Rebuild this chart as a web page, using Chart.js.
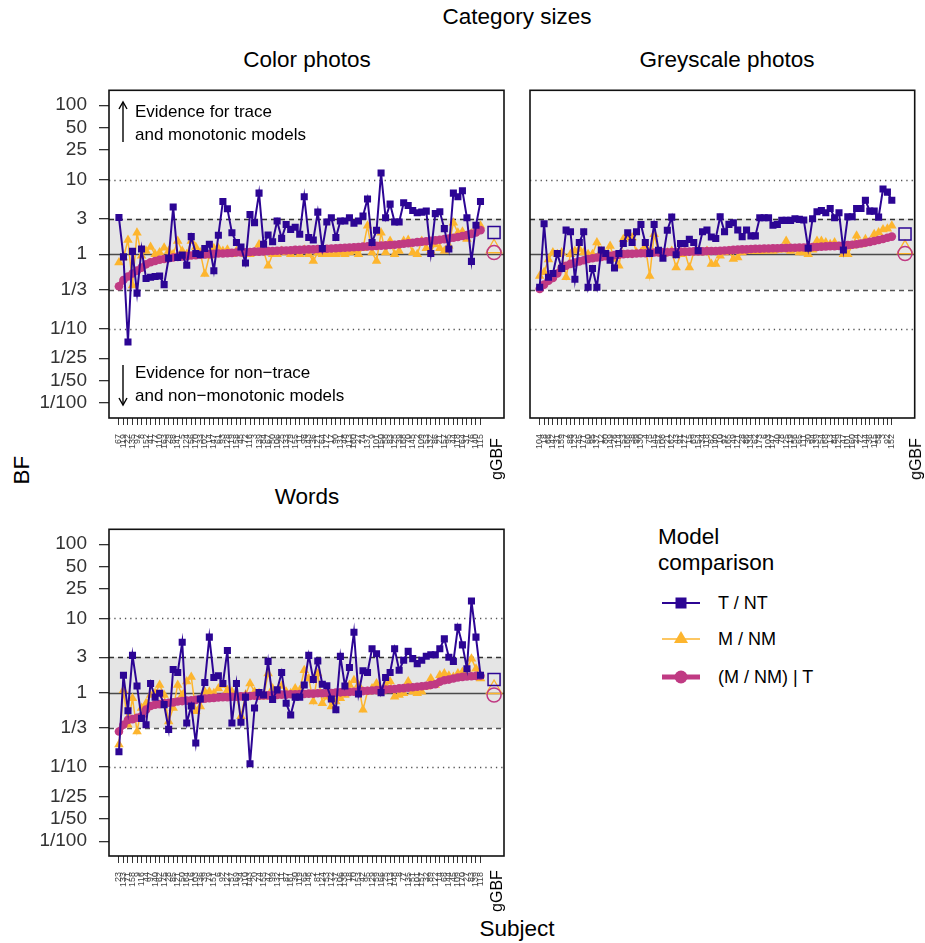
<!DOCTYPE html>
<html>
<head>
<meta charset="utf-8">
<script src="https://cdn.jsdelivr.net/npm/chart.js@4.4.1/dist/chart.umd.min.js"></script>
<style>
  body { margin:0; width:925px; height:943px; position:relative; background:#fff; overflow:hidden;
         font-family:"Liberation Sans", Arial, Helvetica, sans-serif; color:#000; }
  canvas { position:absolute; }
  .t { position:absolute; white-space:nowrap; transform:translate(-50%,-50%); line-height:1; }
  .r { transform:translate(-50%,-50%) rotate(-90deg); }
  .note { position:absolute; white-space:nowrap; font-size:17px; line-height:1; }
  .lg { position:absolute; white-space:nowrap; font-size:18px; line-height:1; transform:translateY(-50%); }
</style>
</head>
<body>
<div class="t" style="left:517px;top:17px;font-size:22.5px">Category sizes</div>
<div class="t" style="left:307px;top:60px;font-size:22.5px">Color photos</div>
<div class="t" style="left:727px;top:60px;font-size:22.5px">Greyscale photos</div>
<div class="t" style="left:307px;top:497px;font-size:22.5px">Words</div>
<div class="t r" style="left:22px;top:470px;font-size:22.5px">BF</div>
<div class="t" style="left:517px;top:929px;font-size:22.5px">Subject</div>

<canvas id="pColor" width="515" height="420" style="left:0;top:80px"></canvas>
<canvas id="pGrey" width="505" height="420" style="left:420px;top:80px"></canvas>
<canvas id="pWords" width="515" height="420" style="left:0;top:519px"></canvas>

<div class="t r" style="left:497px;top:459px;font-size:16px">gGBF</div>
<div class="t r" style="left:916px;top:459px;font-size:16px">gGBF</div>
<div class="t r" style="left:497px;top:891px;font-size:16px">gGBF</div>

<div class="note" style="left:135px;top:103px">Evidence for trace</div>
<div class="note" style="left:135px;top:126px">and monotonic models</div>
<div class="note" style="left:135px;top:364px">Evidence for non&minus;trace</div>
<div class="note" style="left:135px;top:387px">and non&minus;monotonic models</div>

<div class="lg" style="left:658px;top:537px;font-size:22.5px">Model</div>
<div class="lg" style="left:658px;top:563px;font-size:22.5px">comparison</div>
<div class="lg" style="left:718px;top:603px">T / NT</div>
<div class="lg" style="left:718px;top:639px">M / NM</div>
<div class="lg" style="left:718px;top:677px">(M / NM) | T</div>

<svg width="925" height="943" style="position:absolute;left:0;top:0;pointer-events:none">
  <g stroke="#000" stroke-width="1.4" fill="none">
    <line x1="123" y1="142" x2="123" y2="103"/>
    <polyline points="119,109 123,102 127,109"/>
    <line x1="123" y1="365" x2="123" y2="404"/>
    <polyline points="119,398 123,405 127,398"/>
  </g>
  <line x1="662" y1="603" x2="700" y2="603" stroke="#2c0594" stroke-width="2"/>
  <rect x="675.5" y="597.5" width="11" height="11" fill="#2c0594"/>
  <line x1="662" y1="639" x2="700" y2="639" stroke="#fdb52e" stroke-width="1.5"/>
  <polygon points="681,631 688,643 674,643" fill="#fdb52e"/>
  <line x1="662" y1="677" x2="700" y2="677" stroke="#c03a83" stroke-width="5"/>
  <circle cx="681" cy="677" r="6.5" fill="#c03a83"/>
</svg>

<script>
// ---- colours / fonts ----
const C_T = '#2c0594', C_M = '#fdb52e', C_P = '#c03a83';
const FONT = '"Liberation Sans", Arial, Helvetica, sans-serif';

// ---- y axis (BF, log) ----
const Y_TICKS  = [1/100, 1/50, 1/25, 1/10, 1/3, 1, 3, 10, 25, 50, 100];
const Y_LABELS = ['1/100','1/50','1/25','1/10','1/3','1','3','10','25','50','100'];
const GBF_AT = 83;   // x slot of the group-level BF, after a small gap

// ---- Color photos ----
const colorSubjects = '67 119 22 135 97 8 152 41 77 110 163 29 88 141 5 124 56 170 33 102 14 147 61 93 128 19 158 45 72 116 3 139 84 167 50 106 25 133 79 155 11 98 143 36 121 64 172 17 90 131 48 113 160 27 74 137 9 101 150 58 83 125 39 168 70 145 2 109 53 132 86 21 157 95 44 118 164 31 76 140 115'.split(' ');
const colorTNT = [3.1,0.92,0.066,1.09,0.30,1.17,0.47,0.49,0.50,0.51,0.39,0.88,4.3,0.90,0.97,0.71,1.72,1.02,0.98,1.19,
  1.36,0.60,1.79,5.1,4.06,1.94,1.43,1.25,0.76,3.4,2.64,6.6,1.36,1.81,1.47,2.78,1.63,2.5,2.15,2.3,
  1.85,5.9,1.67,1.55,3.67,1.19,2.7,3.08,1.67,2.78,2.78,3.08,2.6,2.78,3.24,5.5,1.43,2.09,12.3,3.08,
  4.7,2.7,2.7,4.9,4.5,3.86,3.6,3.67,3.78,1.02,3.5,3.7,2.2,1.17,6.6,5.9,7.1,3.08,0.80,2.44,5.1];
const colorMNM = [0.77,0.9,1.55,0.38,1.94,0.95,1.1,1.25,1.0,1.05,1.22,1.1,1.0,1.5,1.1,1.0,1.5,1.25,1.05,0.54,
  0.95,1.2,1.2,1.1,1.15,1.0,1.1,1.15,1.0,1.0,1.05,1.35,1.1,0.7,1.0,1.0,1.1,1.05,1.0,1.1,
  1.0,1.15,1.0,0.81,1.05,1.0,1.0,1.0,1.0,1.05,1.0,1.05,1.1,1.0,1.2,2.4,1.05,0.81,1.94,1.05,
  1.5,1.0,1.1,1.5,1.55,1.05,1.0,1.5,1.2,1.1,1.35,1.2,1.1,1.3,2.64,1.94,2.0,1.6,1.9,2.1,2.4];
const colorMNMT = [0.37,0.45,0.50,0.55,0.60,0.66,0.73,0.78,0.81,0.84,0.86,0.88,0.90,0.92,0.93,0.94,0.96,0.97,0.98,0.99,
  1.00,1.01,1.02,1.02,1.03,1.04,1.05,1.05,1.06,1.07,1.08,1.08,1.09,1.10,1.10,1.11,1.12,1.12,1.13,1.14,
  1.14,1.15,1.16,1.16,1.17,1.17,1.18,1.19,1.20,1.21,1.22,1.23,1.24,1.25,1.26,1.27,1.28,1.29,1.30,1.31,
  1.33,1.34,1.36,1.38,1.40,1.42,1.45,1.47,1.49,1.51,1.53,1.56,1.59,1.62,1.66,1.70,1.75,1.80,1.87,1.95,2.1];
const colorGBF = [1.95, 1.2, 1.05];   // T/NT, M/NM, (M/NM)|T

// ---- Greyscale photos ----
const greySubjects = '104 18 66 142 31 159 7 88 123 45 171 60 95 137 12 80 149 26 114 53 166 38 99 130 4 75 145 57 108 21 162 43 91 127 15 69 154 34 118 82 140 10 97 165 49 121 28 86 134 62 173 6 103 147 40 78 125 19 156 65 111 30 94 139 54 168 13 84 129 47 101 160 24 72 144 36 115 58 3 92 152'.split(' ');
const greyTNT = [0.36,2.56,0.49,0.55,1.02,0.64,2.1,2.0,0.46,1.43,2.0,0.36,0.64,0.36,1.14,1.02,0.83,0.65,1.02,1.39,
  1.94,1.43,2.0,2.5,1.43,1.02,2.5,1.13,0.88,2.09,3.14,0.98,1.39,1.39,1.58,1.43,1.11,2.0,2.1,1.7,
  1.62,3.18,2.0,2.51,2.64,2.11,1.72,2.11,1.76,1.76,3.08,3.08,3.08,2.44,2.51,2.84,2.84,2.84,2.99,2.93,
  2.87,1.2,2.99,3.7,3.86,3.6,4.1,3.08,3.6,1.14,3.18,3.18,4.1,4.1,5.3,3.78,3.78,3.14,7.5,6.8,5.3];
const greyMNM = [0.51,0.57,0.85,1.05,1.0,1.05,0.49,1.0,1.1,1.17,1.05,1.0,1.0,1.43,1.1,1.0,1.29,0.86,0.70,1.58,
  1.67,1.67,1.05,1.05,1.29,0.51,1.85,1.05,1.0,1.05,1.1,0.66,1.0,1.05,0.66,1.05,1.1,1.05,1.1,0.74,
  0.74,0.95,1.05,1.1,0.86,0.9,1.05,1.1,1.1,1.1,1.1,1.1,1.15,1.1,1.15,1.15,1.5,1.1,1.15,1.05,
  1.05,1.0,1.15,1.5,1.5,1.43,1.36,1.43,1.25,1.0,1.0,1.3,1.76,1.35,1.58,1.45,1.85,1.95,2.15,2.2,2.4];
const greyMNMT = [0.34,0.39,0.44,0.48,0.55,0.66,0.70,0.74,0.77,0.80,0.83,0.86,0.88,0.90,0.92,0.94,0.95,0.97,0.98,1.00,
  1.01,1.01,1.02,1.03,1.03,1.04,1.05,1.05,1.06,1.06,1.07,1.07,1.08,1.08,1.08,1.09,1.09,1.09,1.10,1.10,
  1.10,1.11,1.12,1.13,1.14,1.15,1.16,1.16,1.17,1.18,1.18,1.19,1.19,1.20,1.20,1.21,1.21,1.22,1.22,1.23,
  1.23,1.24,1.25,1.25,1.26,1.27,1.28,1.28,1.29,1.30,1.32,1.34,1.36,1.39,1.42,1.46,1.50,1.55,1.60,1.66,1.72];
const greyGBF = [1.87, 1.17, 1.02];

// ---- Words ----
const wordsSubjects = '23 133 71 158 9 116 44 97 140 62 175 28 85 121 50 164 16 103 136 39 79 151 6 92 127 57 169 34 110 143 20 74 155 47 99 132 11 87 161 30 119 65 146 2 81 124 53 172 37 106 138 18 70 153 42 95 129 59 166 25 113 148 8 77 135 51 101 157 32 89 122 14 68 144 45 109 170 27 83 139 118'.split(' ');
const wordsTNT = [0.16,1.72,0.57,3.18,1.23,0.45,0.37,1.33,0.87,0.98,0.69,0.32,2.05,1.87,4.78,0.39,0.66,0.21,0.82,1.37,
  5.6,1.6,1.69,1.33,3.7,0.39,1.33,0.40,0.87,0.11,0.62,1.0,0.93,2.64,0.81,1.09,1.87,0.72,0.50,0.87,
  0.87,1.27,3.18,1.5,2.67,1.3,1.24,0.82,0.59,3.08,1.23,2.18,6.5,0.96,1.97,1.87,3.9,3.34,1.0,1.6,
  1.87,3.9,2.0,2.73,3.6,2.87,2.46,2.73,3.1,3.24,3.24,3.9,5.3,3.0,2.64,7.6,4.4,2.1,17.2,5.6,1.72];
const wordsMNM = [0.2,1.08,0.37,0.84,0.30,0.62,0.72,0.93,0.98,1.27,0.93,0.41,0.62,1.27,0.93,1.41,1.63,0.56,0.65,1.03,
  1.03,0.98,1.14,1.27,1.08,1.03,0.93,0.48,0.93,1.33,1.03,0.98,0.88,1.81,1.14,0.98,1.23,1.03,0.98,1.14,
  1.08,2.0,1.55,0.76,1.81,0.72,0.88,0.65,0.76,0.84,0.93,1.27,1.47,1.27,0.59,1.03,1.14,1.33,1.03,1.27,
  1.41,0.88,0.93,0.98,1.41,1.03,0.98,1.03,1.2,1.55,1.27,1.72,1.81,1.69,1.63,1.81,1.9,2.1,2.87,2.1,1.55];
const wordsMNMT = [0.30,0.37,0.43,0.44,0.46,0.48,0.59,0.66,0.69,0.70,0.72,0.73,0.74,0.76,0.77,0.78,0.79,0.80,0.82,0.83,
  0.84,0.85,0.86,0.87,0.87,0.88,0.88,0.89,0.89,0.90,0.91,0.91,0.92,0.92,0.93,0.93,0.94,0.94,0.95,0.95,
  0.96,0.96,0.97,0.97,0.98,0.98,0.99,0.99,1.00,1.01,1.02,1.02,1.03,1.04,1.05,1.06,1.07,1.08,1.09,1.10,
  1.11,1.12,1.14,1.15,1.17,1.18,1.20,1.22,1.24,1.27,1.30,1.40,1.47,1.50,1.55,1.60,1.63,1.65,1.66,1.68,1.69];
const wordsGBF = [1.5, 1.12, 0.93];

// ---- reference band + lines + box ----
const refLines = {
  id: 'refLines',
  beforeDatasetsDraw(chart) {
    const {ctx, chartArea: a, scales: {y}} = chart;
    const y3 = y.getPixelForValue(3), y13 = y.getPixelForValue(1/3);
    ctx.save();
    ctx.fillStyle = '#e5e5e5';
    ctx.fillRect(a.left, y3, a.right - a.left, y13 - y3);
    const hl = (v, dash, col) => {
      const p = Math.round(y.getPixelForValue(v)) + 0.5;
      ctx.beginPath(); ctx.setLineDash(dash); ctx.strokeStyle = col; ctx.lineWidth = 1.3;
      ctx.moveTo(a.left, p); ctx.lineTo(a.right, p); ctx.stroke();
    };
    hl(1, [], '#4a4a4a');
    hl(3, [5, 4], '#333');
    hl(1/3, [5, 4], '#555');
    hl(10, [1.3, 4], '#555');
    hl(1/10, [1.3, 4], '#555');
    ctx.restore();
  },
  afterDraw(chart) {
    const {ctx, chartArea: a} = chart;
    ctx.save();
    ctx.strokeStyle = '#111'; ctx.lineWidth = 1.6;
    ctx.strokeRect(a.left, a.top, a.right - a.left, a.bottom - a.top);
    ctx.restore();
  }
};

const pts = vals => vals.map((v, i) => ({x: i, y: v}));

function panel(id, subjects, tnt, mnm, mnmt, gbf, o) {
  new Chart(document.getElementById(id), {
    type: 'line',
    data: { datasets: [
      {label: 'T / NT', data: pts(tnt), borderColor: C_T, backgroundColor: C_T, borderWidth: 2,
       pointStyle: 'rect', pointRadius: 5, pointBorderWidth: 0, order: 1},
      {label: '(M / NM) | T', data: pts(mnmt), borderColor: C_P, backgroundColor: C_P, borderWidth: 5.5,
       pointStyle: 'circle', pointRadius: 4.3, pointBorderWidth: 0, order: 2},
      {label: 'M / NM', data: pts(mnm), borderColor: C_M, backgroundColor: C_M, borderWidth: 1.5,
       pointStyle: 'triangle', pointRadius: 5.5, pointBorderWidth: 0, order: 3},
      {data: [{x: GBF_AT, y: gbf[1]}], showLine: false, borderColor: C_M, backgroundColor: 'rgba(0,0,0,0)',
       pointStyle: 'triangle', pointRadius: 9, pointBorderWidth: 1.3, order: 6},
      {data: [{x: GBF_AT, y: gbf[2]}], showLine: false, borderColor: C_P, backgroundColor: 'rgba(0,0,0,0)',
       pointStyle: 'circle', pointRadius: 7, pointBorderWidth: 1.5, order: 5},
      {data: [{x: GBF_AT, y: gbf[0]}], showLine: false, borderColor: C_T, backgroundColor: 'rgba(0,0,0,0)',
       pointStyle: 'rect', pointRadius: 8.5, pointBorderWidth: 1.5, order: 4}
    ]},
    options: {
      responsive: false, animation: false,
      layout: {padding: {left: 0, top: 8, right: o.right, bottom: 0}},
      elements: {line: {tension: 0}},
      plugins: {legend: {display: false}, tooltip: {enabled: false}, title: {display: false}},
      scales: {
        x: {
          type: 'linear', min: -2.2, max: 85.2,
          afterBuildTicks: s => { s.ticks = subjects.map((_, i) => ({value: i})); },
          afterFit: s => { s.height = o.xh; s.paddingLeft = 0; s.paddingRight = 0; },
          border: {display: false},
          grid: {drawOnChartArea: false, tickLength: 7, color: '#333', lineWidth: 1},
          ticks: {autoSkip: false, minRotation: 90, maxRotation: 90, padding: 9, color: '#444',
                  font: {family: FONT, size: 9}, callback: (v, i) => subjects[i]}
        },
        y: {
          type: 'logarithmic', min: Math.pow(10, -2.2), max: Math.pow(10, 2.2),
          afterBuildTicks: s => { s.ticks = Y_TICKS.map(v => ({value: v})); },
          afterFit: s => { s.width = o.yw; s.paddingTop = 0; s.paddingBottom = 0; },
          border: {display: false},
          grid: {display: o.showY, drawOnChartArea: false, tickLength: 10, color: '#333', lineWidth: 1.3},
          ticks: {display: o.showY, padding: 12, color: '#333', font: {family: FONT, size: 19},
                  callback: (v, i) => Y_LABELS[i]}
        }
      }
    },
    plugins: [refLines]
  });
}

panel('pColor', colorSubjects, colorTNT, colorMNM, colorMNMT, colorGBF, {right: 11, xh: 82, yw: 109, showY: true});
panel('pGrey',  greySubjects,  greyTNT,  greyMNM,  greyMNMT,  greyGBF,  {right: 2,  xh: 82, yw: 110, showY: false});
panel('pWords', wordsSubjects, wordsTNT, wordsMNM, wordsMNMT, wordsGBF, {right: 11, xh: 83, yw: 109, showY: true});
</script>
</body>
</html>
